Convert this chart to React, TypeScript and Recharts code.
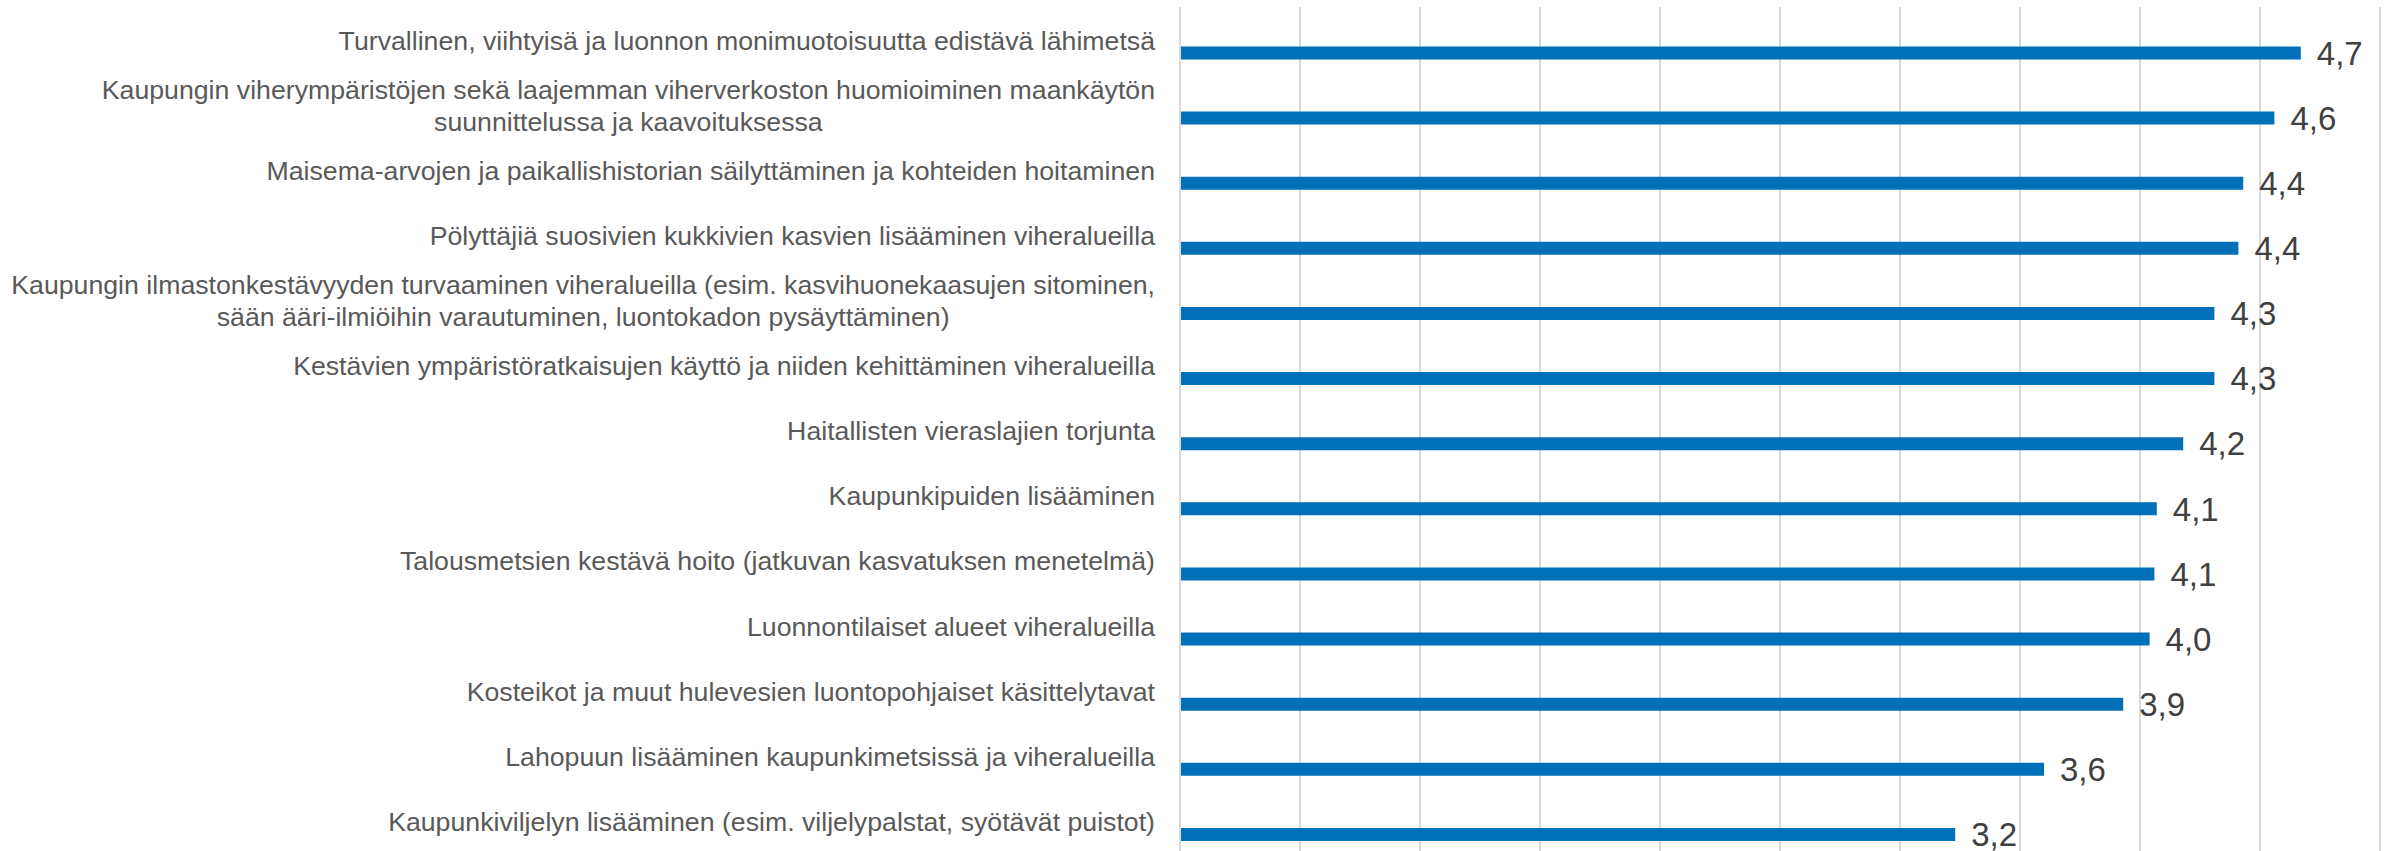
import React from "react";
import { BarChart, Bar, XAxis, YAxis, CartesianGrid, LabelList } from "recharts";

const categories: string[] = [
  "Turvallinen, viihtyisä ja luonnon monimuotoisuutta edistävä lähimetsä",
  "Kaupungin viherympäristöjen sekä laajemman viherverkoston huomioiminen maankäytön\nsuunnittelussa ja kaavoituksessa",
  "Maisema-arvojen ja paikallishistorian säilyttäminen ja kohteiden hoitaminen",
  "Pölyttäjiä suosivien kukkivien kasvien lisääminen viheralueilla",
  "Kaupungin ilmastonkestävyyden turvaaminen viheralueilla (esim. kasvihuonekaasujen sitominen,\nsään ääri-ilmiöihin varautuminen, luontokadon pysäyttäminen)",
  "Kestävien ympäristöratkaisujen käyttö ja niiden kehittäminen viheralueilla",
  "Haitallisten vieraslajien torjunta",
  "Kaupunkipuiden lisääminen",
  "Talousmetsien kestävä hoito (jatkuvan kasvatuksen menetelmä)",
  "Luonnontilaiset alueet viheralueilla",
  "Kosteikot ja muut hulevesien luontopohjaiset käsittelytavat",
  "Lahopuun lisääminen kaupunkimetsissä ja viheralueilla",
  "Kaupunkiviljelyn lisääminen (esim. viljelypalstat, syötävät puistot)",
];

const values: number[] = [4.67, 4.56, 4.43, 4.41, 4.31, 4.31, 4.18, 4.07, 4.06, 4.04, 3.93, 3.6, 3.23];

const xTicks: number[] = [0, 0.5, 1, 1.5, 2, 2.5, 3, 3.5, 4, 4.5, 5];

const data = categories.map((name, i) => ({ name, value: values[i] }));

const CAT_SIZE = 26.7;
const CAT_FONT = `${CAT_SIZE}px "Liberation Sans", Arial, sans-serif`;
let ctx: CanvasRenderingContext2D | null = null;
const measure = (s: string): number => {
  if (!ctx) ctx = document.createElement("canvas").getContext("2d");
  if (!ctx) return s.length * 13;
  ctx.font = CAT_FONT;
  return ctx.measureText(s).width;
};

const CategoryTick = (props: any) => {
  const { x, y, payload } = props;
  const lines = String(payload.value).split("\n");
  const lh = 32;
  const shift = -13;
  const common = {
    fontFamily: '"Liberation Sans", Arial, sans-serif',
    fontSize: CAT_SIZE,
    fill: "#595959",
  };
  if (lines.length === 1) {
    return (
      <text x={x} y={y + shift} dy="0.355em" textAnchor="end" {...common}>
        {lines[0]}
      </text>
    );
  }
  const w1 = Math.max(...lines.map(measure));
  const cx = x - w1 / 2;
  const top = y + shift - ((lines.length - 1) * lh) / 2;
  return (
    <g>
      {lines.map((ln, i) => (
        <text key={i} x={cx} y={top + i * lh} dy="0.355em" textAnchor="middle" {...common}>
          {ln}
        </text>
      ))}
    </g>
  );
};

export default function App() {
  return (
    <div
      style={{
        position: "absolute",
        left: 0,
        top: 0,
        width: 2395,
        height: 851,
        overflow: "hidden",
        background: "#ffffff",
      }}
    >
      <BarChart
        width={2395}
        height={867}
        data={data}
        layout="vertical"
        margin={{ top: 7, right: 15, bottom: 0, left: 0 }}
      >
        <CartesianGrid horizontal={false} vertical={true} stroke="#d9d9d9" strokeWidth={2} />
        <XAxis type="number" domain={[0, 5]} ticks={xTicks} hide />
        <YAxis
          type="category"
          dataKey="name"
          width={1180}
          tickSize={0}
          tickMargin={25}
          tickLine={false}
          axisLine={{ stroke: "#d9d9d9", strokeWidth: 2 }}
          interval={0}
          padding={{ top: 13.5, bottom: 0 }}
          tick={<CategoryTick />}
        />
        <Bar dataKey="value" fill="#0070b8" barSize={13} isAnimationActive={false}>
          <LabelList
            dataKey="value"
            position="right"
            offset={16}
            fontSize={33}
            fill="#404040"
            fontFamily='"Liberation Sans", Arial, sans-serif'
            formatter={(v: any) => Number(v).toFixed(1).replace(".", ",")}
          />
        </Bar>
      </BarChart>
    </div>
  );
}
